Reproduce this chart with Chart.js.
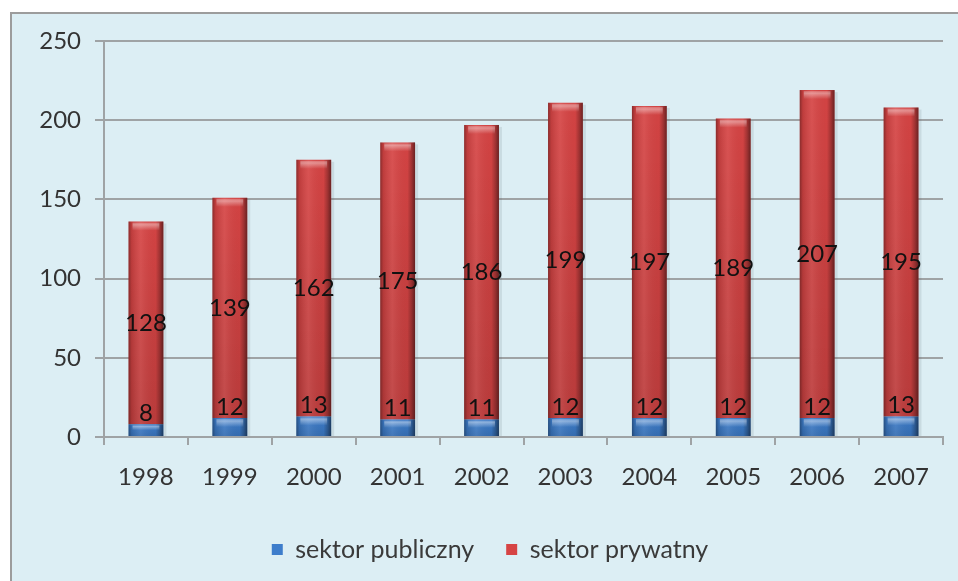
<!DOCTYPE html>
<html>
<head>
<meta charset="utf-8">
<script src="https://cdn.jsdelivr.net/npm/chart.js@4/dist/chart.umd.min.js"></script>
<style>
html,body{margin:0;padding:0;background:#fff;}
#wrap{position:relative;width:958px;height:581px;}
</style>
</head>
<body>
<div id="wrap"><canvas id="c"></canvas></div>
<script>
const categories = ['1998','1999','2000','2001','2002','2003','2004','2005','2006','2007'];
const publicSector = [8,12,13,11,11,12,12,12,12,13];
const privateSector = [128,139,162,175,186,199,197,189,207,195];
const seriesNames = ['sektor publiczny','sektor prywatny'];

const FONT = 'Lato, "Open Sans", "Liberation Sans", sans-serif';
const GRID = '#9FA3A5';

const framePlugin = {
  id: 'frame',
  beforeDraw(chart) {
    const ctx = chart.ctx;
    ctx.save();
    ctx.fillStyle = '#ffffff';
    ctx.fillRect(0, 0, chart.width, chart.height);
    ctx.fillStyle = '#DCEEF4';
    ctx.fillRect(10, 12, chart.width - 10, chart.height - 12);
    ctx.strokeStyle = '#9C9C9C';
    ctx.lineWidth = 2;
    ctx.beginPath();
    ctx.moveTo(11, chart.height);
    ctx.lineTo(11, 13);
    ctx.lineTo(chart.width, 13);
    ctx.stroke();
    ctx.restore();
  },
  beforeDatasetsDraw(chart) {
    const ctx = chart.ctx;
    ctx.save();
    ctx.fillStyle = 'rgba(80,90,100,0.13)';
    const m0 = chart.getDatasetMeta(0), m1 = chart.getDatasetMeta(1);
    m1.data.forEach((bar, i) => {
      const right = bar.x + bar.width / 2;
      const base = m0.data[i].base;
      ctx.fillRect(right, bar.y + 2, 3, base - bar.y - 2);
    });
    ctx.restore();
  }
};

const shadePlugin = {
  id: 'shade',
  afterDatasetsDraw(chart) {
    const ctx = chart.ctx;
    ctx.save();
    chart.data.datasets.forEach((ds, di) => {
      const meta = chart.getDatasetMeta(di);
      meta.data.forEach(bar => {
        const left = bar.x - bar.width / 2;
        const top = Math.min(bar.y, bar.base);
        const h = Math.abs(bar.base - bar.y);
        const gv = ctx.createLinearGradient(0, top, 0, top + h);
        gv.addColorStop(0, 'rgba(0,0,0,0)');
        gv.addColorStop(1, 'rgba(0,0,0,0.12)');
        ctx.fillStyle = gv;
        ctx.fillRect(left, top, bar.width, h);
        const g = ctx.createLinearGradient(left, 0, left + bar.width, 0);
        g.addColorStop(0, 'rgba(0,0,0,0.35)');
        g.addColorStop(0.09, 'rgba(0,0,0,0.10)');
        g.addColorStop(0.35, 'rgba(255,255,255,0.08)');
        g.addColorStop(0.78, 'rgba(0,0,0,0.02)');
        g.addColorStop(0.90, 'rgba(0,0,0,0.25)');
        g.addColorStop(1, 'rgba(0,0,0,0.50)');
        ctx.fillStyle = g;
        ctx.fillRect(left, top, bar.width, h);
        const bh = Math.min(9, h * 0.5);
        const g2 = ctx.createLinearGradient(0, top, 0, top + bh);
        g2.addColorStop(0, 'rgba(255,255,255,0.15)');
        g2.addColorStop(0.35, 'rgba(255,255,255,0.40)');
        g2.addColorStop(1, 'rgba(255,255,255,0)');
        ctx.fillStyle = g2;
        ctx.fillRect(left + 4, top + 1, bar.width - 8, bh);
      });
    });
    ctx.restore();
  },
  afterDraw(chart) {
    const ctx = chart.ctx;
    ctx.save();
    ctx.font = '24px ' + FONT;
    ctx.fillStyle = '#111111';
    ctx.textAlign = 'center';
    ctx.textBaseline = 'middle';
    const m0 = chart.getDatasetMeta(0);
    const m1 = chart.getDatasetMeta(1);
    m0.data.forEach((bar, i) => {
      ctx.fillText(String(publicSector[i]), bar.x, bar.y - 11);
    });
    m1.data.forEach((bar, i) => {
      ctx.fillText(String(privateSector[i]), bar.x, (bar.y + bar.base) / 2);
    });
    ctx.restore();
  }
};

new Chart(document.getElementById('c'), {
  type: 'bar',
  data: {
    labels: categories,
    datasets: [
      { label: seriesNames[0], data: publicSector, backgroundColor: '#3D7DCB', borderWidth: 0 },
      { label: seriesNames[1], data: privateSector, backgroundColor: '#D64444', borderWidth: 0 }
    ]
  },
  options: {
    responsive: true,
    maintainAspectRatio: false,
    animation: false,
    datasets: { bar: { barPercentage: 0.83, categoryPercentage: 0.5 } },
    layout: { padding: { top: 41, right: 15, left: 37, bottom: 9 } },
    plugins: {
      tooltip: { enabled: false },
      legend: {
        position: 'bottom',
        labels: {
          font: { family: FONT, size: 25 },
          color: '#3A3A3A',
          boxWidth: 11,
          boxHeight: 11,
          padding: 32
        }
      }
    },
    scales: {
      x: {
        stacked: true,
        offset: true,
        afterFit(s) { s.height = 68; },
        grid: { offset: true, drawOnChartArea: false, drawTicks: true, tickLength: 8, color: GRID, lineWidth: 2 },
        border: { color: GRID, width: 2 },
        ticks: { font: { family: FONT, size: 24 }, color: '#333333', padding: 18 }
      },
      y: {
        stacked: true,
        min: 0,
        max: 250,
        afterFit(s) { s.width = 67; },
        grid: { color: GRID, lineWidth: 2, tickLength: 9 },
        border: { color: GRID, width: 2 },
        ticks: { stepSize: 50, font: { family: FONT, size: 24 }, color: '#333333', padding: 14 }
      }
    }
  },
  plugins: [framePlugin, shadePlugin]
});
</script>
</body>
</html>
